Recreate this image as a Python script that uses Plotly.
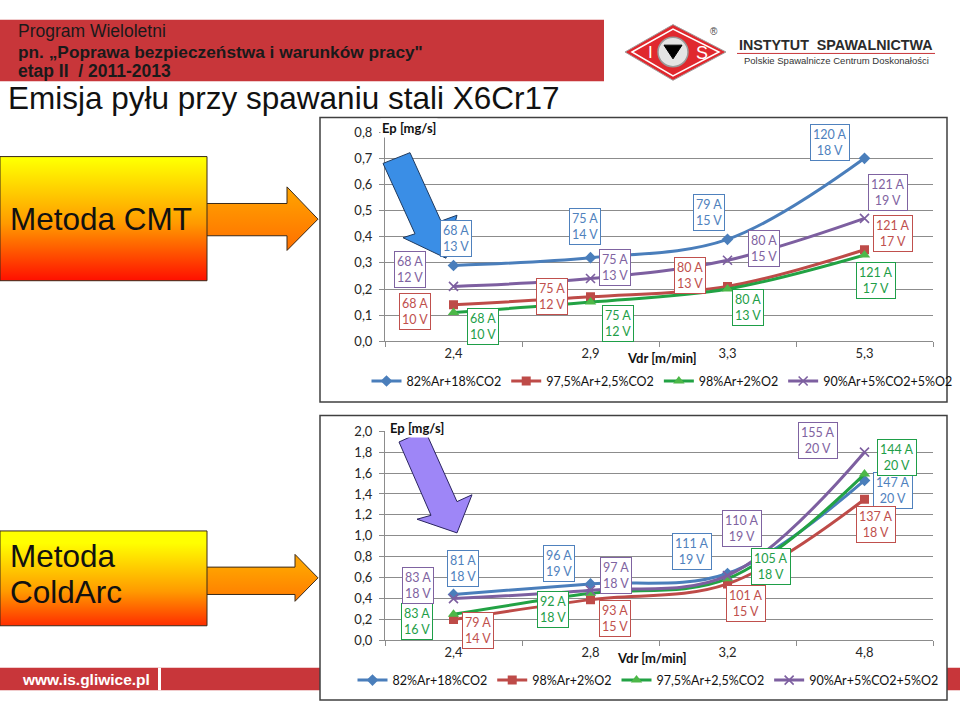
import plotly.graph_objects as go

W, H = 960, 710

# ---------------- data: CMT ----------------
cmt_vdr = ["2,4", "2,9", "3,3", "5,3"]
cmt_ep_82ar_18co2 = [0.29, 0.32, 0.39, 0.70]
cmt_ep_975ar_25co2 = [0.14, 0.17, 0.21, 0.35]
cmt_ep_98ar_2o2 = [0.11, 0.15, 0.20, 0.33]
cmt_ep_90ar_5co2_5o2 = [0.21, 0.24, 0.31, 0.47]

cmt_amp_82ar_18co2 = [68, 75, 79, 120]
cmt_volt_82ar_18co2 = [13, 14, 15, 18]
cmt_amp_975ar_25co2 = [68, 75, 80, 121]
cmt_volt_975ar_25co2 = [10, 12, 13, 17]
cmt_amp_98ar_2o2 = [68, 75, 80, 121]
cmt_volt_98ar_2o2 = [10, 12, 13, 17]
cmt_amp_90ar_5co2_5o2 = [68, 75, 80, 121]
cmt_volt_90ar_5co2_5o2 = [12, 13, 15, 19]

# ---------------- data: ColdArc ----------------
ca_vdr = ["2,4", "2,8", "3,2", "4,8"]
ca_ep_82ar_18co2 = [0.44, 0.54, 0.64, 1.53]
ca_ep_98ar_2o2 = [0.20, 0.39, 0.54, 1.35]
ca_ep_975ar_25co2 = [0.25, 0.45, 0.59, 1.59]
ca_ep_90ar_5co2_5o2 = [0.40, 0.48, 0.62, 1.80]

ca_amp_82ar_18co2 = [81, 96, 111, 147]
ca_volt_82ar_18co2 = [18, 19, 19, 20]
ca_amp_98ar_2o2 = [79, 93, 101, 137]
ca_volt_98ar_2o2 = [14, 15, 15, 18]
ca_amp_975ar_25co2 = [83, 92, 105, 144]
ca_volt_975ar_25co2 = [16, 18, 18, 20]
ca_amp_90ar_5co2_5o2 = [83, 97, 110, 155]
ca_volt_90ar_5co2_5o2 = [18, 18, 19, 20]

# ---------------- styles ----------------
FONT = "Lato, Calibri, Arial"
ARIAL = "Liberation Sans, Arial"
BLUE, RED, GREEN, PURPLE = "#4A7EBB", "#BE4B48", "#22A244", "#7D5FA0"
BLUE_T, RED_T, GREEN_T, PURPLE_T = "#4F81BD", "#C0504D", "#1E9E48", "#7F63A1"
GRID = "#8C8C8C"

# label offsets (pixels) relative to each point
cmt_off_blue = [(2, 27), (-6, 31), (-19, 27), (-35, 16)]
cmt_off_red = [(-39, -7), (-39, 0), (-38, 11), (28, 16)]
cmt_off_green = [(29, -14), (27, -21), (20, -18), (11, -25)]
cmt_off_purple = [(-44, 17), (24, 11), (36, 12), (23, 26)]
ca_off_blue = [(9, 26), (-32, 20), (-36, 22), (28, -10)]
ca_off_red = [(24, -11), (24, -19), (18, -20), (11, -25)]
ca_off_green = [(-37, -7), (-38, -16), (43, 12), (32, 17)]
ca_off_purple = [(-36, 13), (25, 15), (14, 47), (-47, 12)]


def px(x):
    return x / W


def py(y):
    return 1 - y / H


def path(points):
    return "M " + " L ".join(f"{px(x):.5f},{py(y):.5f}" for x, y in points) + " Z"


fig = go.Figure()

marker_styles = {
    "blue": dict(symbol="diamond", size=9, color=BLUE),
    "red": dict(symbol="square", size=9, color=RED),
    "green": dict(symbol="triangle-up", size=10, color="#4DB848"),
    "purple": dict(symbol="x-thin", size=9, color=PURPLE, line=dict(width=1.6, color=PURPLE)),
}
line_colors = {"blue": BLUE, "red": RED, "green": GREEN, "purple": PURPLE}


def add_series(x, y, name, key, xa, ya, legend):
    fig.add_trace(go.Scatter(
        x=x, y=y, name=name, mode="lines+markers",
        line=dict(color=line_colors[key], width=3, shape="spline", smoothing=1.0),
        marker=marker_styles[key], xaxis=xa, yaxis=ya, legend=legend,
        hoverinfo="skip",
    ))


# CMT chart
add_series(cmt_vdr, cmt_ep_82ar_18co2, "82%Ar+18%CO2", "blue", "x", "y", "legend")
add_series(cmt_vdr, cmt_ep_975ar_25co2, "97,5%Ar+2,5%CO2", "red", "x", "y", "legend")
add_series(cmt_vdr, cmt_ep_98ar_2o2, "98%Ar+2%O2", "green", "x", "y", "legend")
add_series(cmt_vdr, cmt_ep_90ar_5co2_5o2, "90%Ar+5%CO2+5%O2", "purple", "x", "y", "legend")

# ColdArc chart
add_series(ca_vdr, ca_ep_82ar_18co2, "82%Ar+18%CO2", "blue", "x2", "y2", "legend2")
add_series(ca_vdr, ca_ep_98ar_2o2, "98%Ar+2%O2", "red", "x2", "y2", "legend2")
add_series(ca_vdr, ca_ep_975ar_25co2, "97,5%Ar+2,5%CO2", "green", "x2", "y2", "legend2")
add_series(ca_vdr, ca_ep_90ar_5co2_5o2, "90%Ar+5%CO2+5%O2", "purple", "x2", "y2", "legend2")

# ---------------- decorative gradient boxes / arrows on pixel overlay axis ----------------
def grad_poly(xs, ys, y0, y1, scale):
    fig.add_trace(go.Scatter(
        x=xs, y=ys, mode="lines", fill="toself",
        fillgradient=dict(type="vertical", colorscale=scale, start=y0, stop=y1),
        line=dict(color="#3A2A1A", width=1), xaxis="x3", yaxis="y3",
        showlegend=False, hoverinfo="skip",
    ))


box_scale = [[0, "#FFFF00"], [0.5, "#FF9A00"], [1, "#FF0000"]]
arrow_scale = [[0, "#FFA200"], [1, "#FF6A00"]]
grad_poly([207, 287, 287, 318, 287, 287, 207], [200, 200, 183, 216, 248, 233, 233], 183, 248, arrow_scale)
grad_poly([0, 207, 207, 0, 0], [152, 152, 279, 279, 152], 152, 279, box_scale)
grad_poly([207, 295, 295, 318, 295, 295, 207], [572, 572, 559, 583, 607, 600, 600], 559, 607, arrow_scale)
grad_poly([0, 207, 207, 0, 0], [535, 535, 632, 632, 535], 535, 632, box_scale)

# ---------------- annotations ----------------
annotations = []


def labels(xa, ya, cats, vals, amps, volts, offs, color):
    for c, v, a, u, (dx, dy) in zip(cats, vals, amps, volts, offs):
        annotations.append(dict(
            x=c, y=v, xref=xa, yref=ya, text=f"{a} A<br>{u} V", showarrow=False,
            xshift=dx, yshift=dy, font=dict(family=FONT, size=12.5, color=color),
            bgcolor="white", bordercolor=color, borderwidth=1, borderpad=2,
        ))


labels("x", "y", cmt_vdr, cmt_ep_82ar_18co2, cmt_amp_82ar_18co2, cmt_volt_82ar_18co2, cmt_off_blue, BLUE_T)
labels("x", "y", cmt_vdr, cmt_ep_975ar_25co2, cmt_amp_975ar_25co2, cmt_volt_975ar_25co2, cmt_off_red, RED_T)
labels("x", "y", cmt_vdr, cmt_ep_98ar_2o2, cmt_amp_98ar_2o2, cmt_volt_98ar_2o2, cmt_off_green, GREEN_T)
labels("x", "y", cmt_vdr, cmt_ep_90ar_5co2_5o2, cmt_amp_90ar_5co2_5o2, cmt_volt_90ar_5co2_5o2, cmt_off_purple, PURPLE_T)

labels("x2", "y2", ca_vdr, ca_ep_82ar_18co2, ca_amp_82ar_18co2, ca_volt_82ar_18co2, ca_off_blue, BLUE_T)
labels("x2", "y2", ca_vdr, ca_ep_98ar_2o2, ca_amp_98ar_2o2, ca_volt_98ar_2o2, ca_off_red, RED_T)
labels("x2", "y2", ca_vdr, ca_ep_975ar_25co2, ca_amp_975ar_25co2, ca_volt_975ar_25co2, ca_off_green, GREEN_T)
labels("x2", "y2", ca_vdr, ca_ep_90ar_5co2_5o2, ca_amp_90ar_5co2_5o2, ca_volt_90ar_5co2_5o2, ca_off_purple, PURPLE_T)


def text(x, y, s, size, family=ARIAL, color="#111", xanchor="left", bg=None, pad=0):
    d = dict(x=px(x), y=py(y), xref="paper", yref="paper", text=s, showarrow=False,
             xanchor=xanchor, yanchor="middle", font=dict(family=family, size=size, color=color),
             borderpad=pad)
    if bg:
        d["bgcolor"] = bg
    annotations.append(d)


# axis titles
text(380, 123, "<b>Ep [mg/s]</b>", 13, FONT, "#111", bg="white", pad=1)
text(662, 358, "<b>Vdr [m/min]</b>", 13, FONT, "#111", xanchor="center")
text(388, 430, "<b>Ep [mg/s]</b>", 13, FONT, "#111", bg="white", pad=1)
text(652, 665, "<b>Vdr [m/min]</b>", 13, FONT, "#111", xanchor="center")

# header
text(17, 24, "Program Wieloletni", 17.5, color="#1a1a1a")
text(17, 45, "<b>pn. „Poprawa bezpieczeństwa i warunków pracy\"</b>", 17.3, color="#1a1a1a")
text(17, 64.5, "<b>etap II&nbsp; / 2011-2013</b>", 17.5, color="#1a1a1a")
text(7, 92, "Emisja pyłu przy spawaniu stali X6Cr17", 31.5, color="#111")

# left labels
text(9, 216, "Metoda CMT", 31.5, color="#111")
text(9, 561, "Metoda", 31.5, color="#111")
text(9, 597, "ColdArc", 31.5, color="#111")

# footer
text(21, 687, "<b>www.is.gliwice.pl</b>", 15.5, color="white")

# logo texts
text(836, 38, "<b>INSTYTUT&nbsp; SPAWALNICTWA</b>", 14.3, color="#2b2b2b", xanchor="center")
text(836, 54, "Polskie Spawalnicze Centrum Doskonałości", 9.5, color="#333", xanchor="center")
text(650, 46, "I", 17, color="white", xanchor="center")
text(702, 46, "S", 18, color="white", xanchor="center")
text(714, 24, "®", 10, color="#444", xanchor="center")

# ---------------- shapes ----------------
shapes = [
    dict(type="rect", xref="paper", yref="paper", x0=0, x1=px(604), y0=py(75), y1=py(12),
         fillcolor="#C8363A", line=dict(width=0), layer="below"),
    dict(type="rect", xref="paper", yref="paper", x0=0, x1=1, y0=py(698), y1=py(675),
         fillcolor="#C8363A", line=dict(width=0), layer="below"),
    dict(type="rect", xref="paper", yref="paper", x0=px(158), x1=px(161), y0=py(698), y1=py(675),
         fillcolor="white", line=dict(width=0), layer="below"),
    dict(type="rect", xref="paper", yref="paper", x0=px(320), x1=px(947), y0=py(403), y1=py(112),
         fillcolor="white", line=dict(color="#404040", width=1.5), layer="below"),
    dict(type="rect", xref="paper", yref="paper", x0=px(320), x1=px(947), y0=py(708), y1=py(417),
         fillcolor="white", line=dict(color="#404040", width=1.5), layer="below"),
    # blue arrow (CMT)
    dict(type="path", xref="paper", yref="paper",
         path=path([(383, 159), (410, 148), (441, 218), (457, 212), (446, 256), (403, 235), (415, 231)]),
         fillcolor="#3A8EE6", line=dict(color="#1F3A5F", width=1), layer="above"),
    # purple arrow (ColdArc)
    dict(type="path", xref="paper", yref="paper",
         path=path([(399, 444), (425, 432), (457, 505), (472, 498), (457, 537), (417, 523), (431, 519)]),
         fillcolor="#9E86F7", line=dict(color="#2B2560", width=1), layer="above"),
    # logo
    dict(type="path", xref="paper", yref="paper",
         path=path([(625, 45), (673, 17), (726, 45), (673, 74)]),
         fillcolor="#E0282E", line=dict(color="#A0A0A0", width=1)),
    dict(type="path", xref="paper", yref="paper",
         path=path([(632, 45), (673, 21.5), (719, 45), (673, 69.5)]),
         fillcolor="rgba(0,0,0,0)", line=dict(color="white", width=1.5)),
    dict(type="circle", xref="paper", yref="paper", x0=px(658), x1=px(688), y0=py(60), y1=py(30),
         fillcolor="#E4E4E4", line=dict(color="#9A9A9A", width=1.5)),
    dict(type="path", xref="paper", yref="paper",
         path=path([(664, 38), (682, 38), (673, 52)]),
         fillcolor="black", line=dict(color="black", width=1)),
    dict(type="line", xref="paper", yref="paper", x0=px(737), x1=px(935), y0=py(46.5), y1=py(46.5),
         line=dict(color="#C8363A", width=1)),
]

axis_common = dict(
    showline=True, linecolor=GRID, linewidth=1, ticks="outside", tickcolor=GRID, ticklen=5,
    tickfont=dict(family=FONT, size=13, color="#262626"), zeroline=False, fixedrange=True,
)

fig.update_layout(
    width=W, height=H, margin=dict(l=0, r=0, t=0, b=0),
    paper_bgcolor="white", plot_bgcolor="rgba(0,0,0,0)",
    separators=",.",
    xaxis=dict(domain=[px(385), px(933)], anchor="y", type="category", categoryorder="array",
               categoryarray=cmt_vdr, range=[-0.5, 3.5], tickson="boundaries", showgrid=False,
               **axis_common),
    yaxis=dict(domain=[py(341), py(127)], anchor="x", range=[0, 0.8], dtick=0.1, tickformat=".1f",
               showgrid=True, gridcolor=GRID, gridwidth=1, ticklabelstandoff=4, **axis_common),
    xaxis2=dict(domain=[px(385), px(933)], anchor="y2", type="category", categoryorder="array",
                categoryarray=ca_vdr, range=[-0.5, 3.5], tickson="boundaries", showgrid=False,
                **axis_common),
    yaxis2=dict(domain=[py(647), py(433)], anchor="x2", range=[0, 2.0], dtick=0.2, tickformat=".1f",
                showgrid=True, gridcolor=GRID, gridwidth=1, ticklabelstandoff=4, **axis_common),
    xaxis3=dict(domain=[0, 1], anchor="y3", range=[0, W], visible=False, fixedrange=True),
    yaxis3=dict(domain=[0, 1], anchor="x3", range=[H, 0], visible=False, fixedrange=True),
    legend=dict(orientation="h", x=px(662), xanchor="center", y=py(382), yanchor="middle",
                font=dict(family=FONT, size=12.5, color="#111"), bgcolor="rgba(0,0,0,0)"),
    legend2=dict(orientation="h", x=px(648), xanchor="center", y=py(688), yanchor="middle",
                 font=dict(family=FONT, size=12.5, color="#111"), bgcolor="rgba(0,0,0,0)"),
    annotations=annotations,
    shapes=shapes,
    showlegend=True,
)

fig.write_html("out.html")
